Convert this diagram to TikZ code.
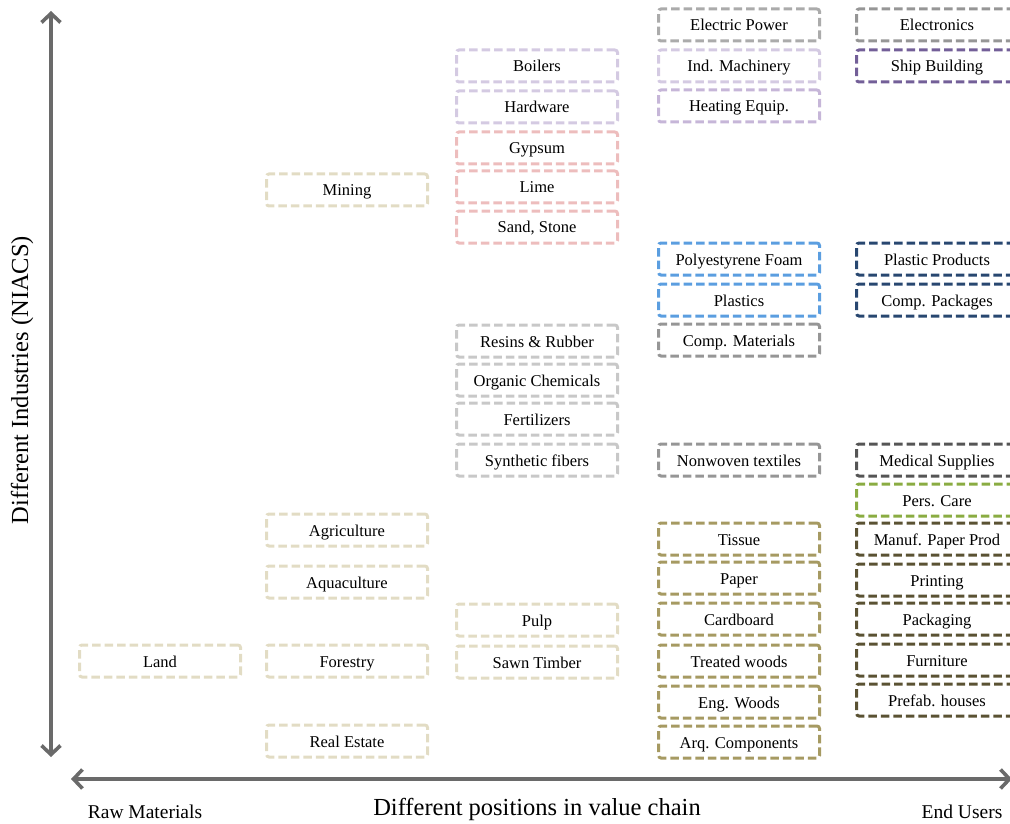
\documentclass[tikz,border=0pt]{standalone}
\usepackage{fontspec}
\setmainfont{Liberation Serif}
\usetikzlibrary{arrows.meta}
\definecolor{cBeige}{HTML}{E2DCC4}
\definecolor{cLGray}{HTML}{ABABAB}
\definecolor{cMGray}{HTML}{969696}
\definecolor{cRGray}{HTML}{C8C8C8}
\definecolor{cDGray}{HTML}{555555}
\definecolor{cLav}{HTML}{D4CAE2}
\definecolor{cLav2}{HTML}{C6B6D8}
\definecolor{cPurple}{HTML}{735F98}
\definecolor{cPink}{HTML}{EDBDBD}
\definecolor{cBlue}{HTML}{5B9EE0}
\definecolor{cNavy}{HTML}{284770}
\definecolor{cGreen}{HTML}{8AAC42}
\definecolor{cOlive}{HTML}{A69A62}
\definecolor{cDOlive}{HTML}{5A5233}
\definecolor{cAxis}{HTML}{6A6A6A}
\tikzset{
  box/.style={draw=#1, line width=3pt, dash pattern=on 8.5pt off 4pt, rounded corners=2.5pt,
    minimum width=161pt, minimum height=32pt, inner sep=0pt, text height=15pt, text depth=3pt,
    font=\fontsize{16.5}{18}\selectfont, text=black},
  axis/.style={draw=cAxis, line width=4.2pt, {Straight Barb[length=9pt,width=19pt,line width=3.6pt]}-{Straight Barb[length=9pt,width=19pt,line width=3.6pt]}},
  axlabel/.style={font=\fontsize{24.5}{28}\selectfont, text=black},
  endlabel/.style={font=\fontsize{19.5}{22}\selectfont, text=black}
}
\begin{document}
\begin{tikzpicture}[x=1pt,y=-1pt]
\useasboundingbox (0,0) rectangle (1010,824);
\clip (0,0) rectangle (1010,824);
% axes
\coordinate (vt) at (51,11);
\coordinate (vb) at (51,757);
\coordinate (hl) at (71,779);
\coordinate (hr) at (1012,779);
\draw[axis] (vb) -- (vt);
\draw[axis] (hl) -- (hr);
\node[axlabel, rotate=90] (ylab) at (22,380) {Different Industries (NIACS)};
\node[axlabel] (xlab) at (537,809) {Different positions in value chain};
\node[endlabel] (raw) at (145,812) {Raw Materials};
\node[endlabel] (end) at (962,812) {End Users};
% column A
\node[box=cBeige] (land) at (160,661) {Land};
% column B
\node[box=cBeige] (mining) at (347,190) {Mining};
\node[box=cBeige] (agri) at (347,530) {Agriculture};
\node[box=cBeige] (aqua) at (347,582) {Aquaculture};
\node[box=cBeige] (forest) at (347,661) {Forestry};
\node[box=cBeige] (realest) at (347,741) {Real Estate};
% column C
\node[box=cLav] (boilers) at (537,66) {Boilers};
\node[box=cLav] (hardware) at (537,107) {Hardware};
\node[box=cPink] (gypsum) at (537,148) {Gypsum};
\node[box=cPink] (lime) at (537,187) {Lime};
\node[box=cPink] (sand) at (537,227) {Sand, Stone};
\node[box=cRGray] (resins) at (537,341) {Resins \& Rubber};
\node[box=cRGray] (organic) at (537,380) {Organic Chemicals};
\node[box=cRGray] (fert) at (537,419) {Fertilizers};
\node[box=cRGray] (synth) at (537,460) {Synthetic fibers};
\node[box=cBeige] (pulp) at (537,620) {Pulp};
\node[box=cBeige] (sawn) at (537,662) {Sawn Timber};
% column D
\node[box=cLGray] (elpow) at (739,25) {Electric Power};
\node[box=cLav] (indmach) at (739,66) {Ind. Machinery};
\node[box=cLav2] (heating) at (739,106) {Heating Equip.};
\node[box=cBlue] (polyst) at (739,259) {Polyestyrene Foam};
\node[box=cBlue] (plastics) at (739,300) {Plastics};
\node[box=cMGray] (compmat) at (739,340) {Comp. Materials};
\node[box=cMGray] (nonwoven) at (739,460) {Nonwoven textiles};
\node[box=cOlive] (tissue) at (739,539) {Tissue};
\node[box=cOlive] (paper) at (739,578) {Paper};
\node[box=cOlive] (cardboard) at (739,619) {Cardboard};
\node[box=cOlive] (treated) at (739,661) {Treated woods};
\node[box=cOlive] (engwood) at (739,702) {Eng. Woods};
\node[box=cOlive] (arq) at (739,742) {Arq. Components};
% column E
\node[box=cMGray] (electronics) at (937,25) {Electronics};
\node[box=cPurple] (ship) at (937,66) {Ship Building};
\node[box=cNavy] (plprod) at (937,259) {Plastic Products};
\node[box=cNavy] (comppack) at (937,300) {Comp. Packages};
\node[box=cDGray] (medical) at (937,460) {Medical Supplies};
\node[box=cGreen] (perscare) at (937,500) {Pers. Care};
\node[box=cDOlive] (manuf) at (937,539) {Manuf. Paper Prod};
\node[box=cDOlive] (printing) at (937,580) {Printing};
\node[box=cDOlive] (packaging) at (937,619) {Packaging};
\node[box=cDOlive] (furniture) at (937,660) {Furniture};
\node[box=cDOlive] (prefab) at (937,700) {Prefab. houses};
\end{tikzpicture}
\end{document}
